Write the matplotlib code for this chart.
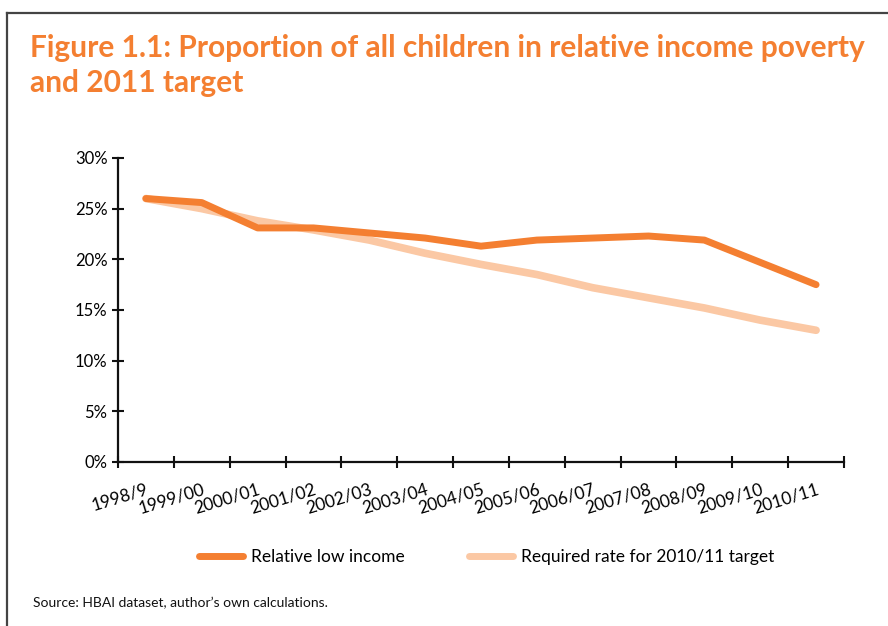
import matplotlib
matplotlib.use('Agg')
import matplotlib.pyplot as plt
from matplotlib.lines import Line2D
from matplotlib.transforms import ScaledTranslation

plt.rcParams['font.family'] = ['Lato', 'DejaVu Sans']

# Datos de la figura
anios = ['1998/9', '1999/00', '2000/01', '2001/02', '2002/03', '2003/04', '2004/05',
         '2005/06', '2006/07', '2007/08', '2008/09', '2009/10', '2010/11']
bajo_ingreso = [26.0, 25.6, 23.1, 23.1, 22.6, 22.1, 21.3, 21.9, 22.1, 22.3, 21.9, 19.7, 17.5]
tasa_requerida = [26.0, 25.0, 23.8, 22.9, 21.9, 20.6, 19.5, 18.5, 17.2, 16.2, 15.2, 14.0, 13.0]

naranja = '#F47F31'
naranja_claro = '#FBC8A4'

fig = plt.figure(figsize=(8.88, 6.26), dpi=100)

# marco superior e izquierdo
fig.add_artist(Line2D([6.5/888, 1], [1-12.5/626, 1-12.5/626], color='#444444', lw=1.6))
fig.add_artist(Line2D([6.5/888, 6.5/888], [0, 1-12.5/626], color='#444444', lw=1.6))

fig.text(30/888, 1-34/626, 'Figure 1.1: Proportion of all children in relative income poverty\nand 2011 target',
         color=naranja, fontsize=21.5, fontweight='bold', ha='left', va='top',
         linespacing=1.3)

ax = fig.add_axes([118/888, 1-462/626, (844-118)/888, (462-158)/626])
x = list(range(len(anios)))
ax.plot(x, tasa_requerida, color=naranja_claro, lw=5.5, solid_capstyle='round', zorder=2)
ax.plot(x, bajo_ingreso, color=naranja, lw=5, solid_capstyle='round', zorder=3)

ax.set_xlim(-0.5, len(anios) - 0.5)
ax.set_ylim(0, 30)
ax.set_yticks(range(0, 31, 5))
ax.set_yticklabels([f'{v}%' for v in range(0, 31, 5)], fontsize=12)
ax.set_xticks([i - 0.5 for i in range(len(anios) + 1)])
ax.set_xticklabels([])
ax.set_xticks(x, minor=True)
ax.set_xticklabels(anios, minor=True, rotation=17, ha='right', rotation_mode='anchor', fontsize=12.5)
desplazar = ScaledTranslation(5/100, 0, fig.dpi_scale_trans)
for etiqueta in ax.get_xticklabels(minor=True):
    etiqueta.set_transform(etiqueta.get_transform() + desplazar)
ax.tick_params(axis='x', which='minor', length=0, pad=14)
ax.tick_params(axis='both', which='major', direction='inout', length=8, width=1.5, color='#111111')
for lado in ['top', 'right']:
    ax.spines[lado].set_visible(False)
for lado in ['left', 'bottom']:
    ax.spines[lado].set_linewidth(1.6)
    ax.spines[lado].set_color('#111111')

manejadores = [Line2D([], [], color=naranja, lw=5, solid_capstyle='round'),
               Line2D([], [], color=naranja_claro, lw=5, solid_capstyle='round')]
fig.legend(manejadores, ['Relative low income', 'Required rate for 2010/11 target'],
           loc='center', bbox_to_anchor=(487/888, 1-557/626), ncol=2, frameon=False,
           fontsize=12.5, handlelength=2.5, columnspacing=3.7, handletextpad=0.5)

fig.text(33/888, 1-603/626, 'Source: HBAI dataset, author\u2019s own calculations.', fontsize=10,
         ha='left', va='center', color='#111111')

fig.savefig('out.png', dpi=100)
